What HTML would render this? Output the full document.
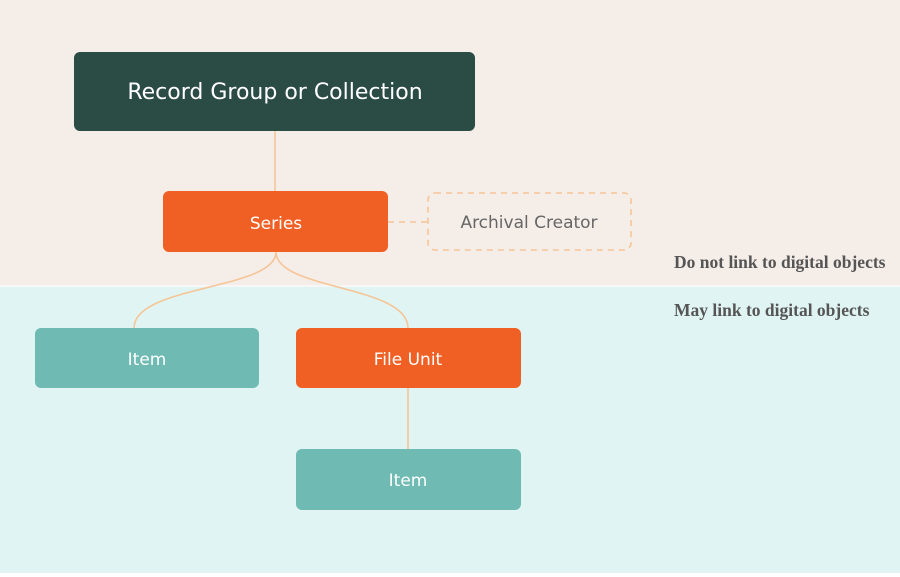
<!DOCTYPE html>
<html><head><style>
body{margin:0;width:900px;height:573px;overflow:hidden;font-family:"DejaVu Sans","Liberation Sans",sans-serif}
</style></head><body>
<svg width="900" height="573" xmlns="http://www.w3.org/2000/svg">
<rect x="0" y="0" width="900" height="286" fill="#f5ede8"/>
<rect x="0" y="286" width="900" height="287" fill="#e0f5f3"/>
<line x1="0" y1="286" x2="900" y2="286" stroke="#fafafa" stroke-width="1.5"/>
<g fill="none" stroke="#f5c597" stroke-width="1.6">
<line x1="275" y1="131" x2="275" y2="191"/>
<line x1="388" y1="222" x2="428" y2="222" stroke-dasharray="6,5"/>
<path d="M276 252 C276 290 134 285 134 328"/>
<path d="M276 252 C276 290 408 285 408 328"/>
<line x1="408" y1="388" x2="408" y2="449"/>
<rect x="428" y="193" width="203" height="57" rx="7" stroke-dasharray="6,5"/>
</g>
<rect x="74" y="52" width="401" height="79" rx="6" fill="#2b4b45"/>
<rect x="163" y="191" width="225" height="61" rx="6" fill="#f06025"/>
<rect x="35" y="328" width="224" height="60" rx="6" fill="#6fbbb3"/>
<rect x="296" y="328" width="225" height="60" rx="6" fill="#f06025"/>
<rect x="296" y="449" width="225" height="61" rx="6" fill="#6fbbb3"/>
<g text-anchor="middle" font-family="DejaVu Sans, Liberation Sans, sans-serif" fill="#fff">
<text x="275" y="99" font-size="22">Record Group or Collection</text>
<text x="276" y="229" font-size="17">Series</text>
<text x="147" y="365" font-size="17">Item</text>
<text x="408" y="365" font-size="17">File Unit</text>
<text x="408" y="486" font-size="17">Item</text>
<text x="529" y="228" font-size="17" fill="#666">Archival Creator</text>
</g>
<g font-family="Liberation Serif, serif" font-weight="bold" font-size="17.5" fill="#555">
<text x="674" y="268">Do not link to digital objects</text>
<text x="674" y="316">May link to digital objects</text>
</g>
</svg>
</body></html>
